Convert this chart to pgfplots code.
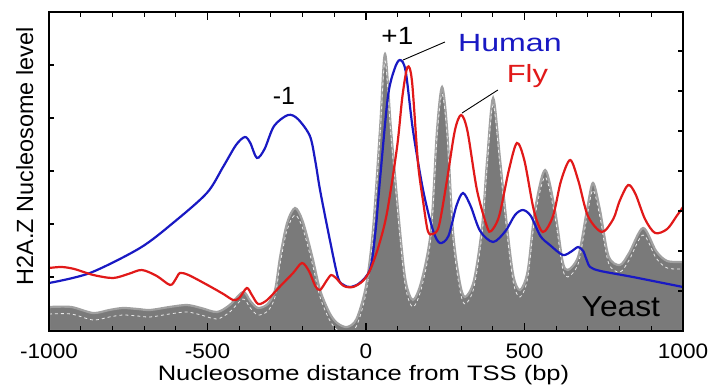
\documentclass[border=0pt]{standalone}
\usepackage{pgfplots}
\pgfplotsset{compat=1.18}
\usepackage{pgfplotstable}
\usepackage{fontspec}
\setmainfont{Liberation Sans}
\usepackage{graphicx}
\definecolor{hblue}{RGB}{25,25,195}
\definecolor{fred}{RGB}{225,25,25}
\definecolor{ygray}{RGB}{122,122,122}
\definecolor{yedge}{RGB}{160,160,160}

\pgfplotstableread{
x y
-1000 24
-930 24
-861 18
-810 21
-767 23
-720 22
-681 21
-620 24
-565 26
-520 23
-470 19
-430 26
-388 39
-365 30
-341 23
-310 27
-287 41
-271 74
-249 108
-224 123
-200 110
-170 75
-145 41
-115 18
-91 8
-60 4
-30 12
0 45
22 101
44 201
60 277
79 201
107 101
125 50
148 31
175 50
205 101
224 201
240 244
256 201
274 101
295 50
312 34
340 50
366 104
382 171
401 233
423 171
445 104
465 55
486 41
510 60
533 121
565 161
596 121
620 70
637 61
670 75
697 121
716 148
738 121
765 75
801 66
830 78
874 103
915 80
950 70
1000 69
}\yeast

\pgfplotstableread{
x y
-1000 48
-871 58
-713 83
-609 108
-502 138
-451 164
-410 186
-382 194
-365 188
-344 173
-320 182
-290 205
-246 216
-215 212
-177 195
-160 170
-145 141
-114 91
-88 53
-70 46
-50 44
-20 48
13 62
30 100
44 151
69 234
90 262
107 271
125 260
148 201
180 141
211 101
233 88
260 95
285 125
306 138
330 125
360 100
401 89
440 100
470 116
495 121
520 115
550 95
580 86
621 76
650 80
669 84
685 80
695 72
707 64
740 60
842 54
1000 44
}\human

\pgfplotstableread{
x y
-1000 63
-960 64
-920 62
-860 56
-798 53
-750 57
-707 61
-660 55
-618 46
-600 52
-587 58
-560 56
-500 46
-450 37
-419 31
-400 33
-376 43
-360 36
-340 27
-312 31
-270 45
-230 58
-202 68
-180 60
-160 45
-145 41
-125 50
-110 56
-95 53
-70 45
-41 44
-10 50
13 61
40 85
66 118
98 184
115 235
131 264
145 250
164 168
180 130
195 100
211 97
230 105
255 150
280 200
300 216
320 200
350 141
382 104
395 100
420 115
450 160
476 188
500 170
530 120
558 99
590 115
615 150
644 171
670 150
700 115
744 99
780 112
800 130
827 146
850 137
880 112
912 98
950 102
980 115
1000 124
}\fly

\begin{document}
\begin{tikzpicture}[x=1bp,y=1bp]
\useasboundingbox (0,0) rectangle (708,388);
\begin{axis}[at={(49bp,57bp)}, anchor=south west, scale only axis,
  width=634bp, height=319bp,
  xmin=-1000, xmax=1000, ymin=0, ymax=319,
  xtick={-1000,-500,0,500,1000},
  xticklabels={\scalebox{1.08}[1]{-1000},\scalebox{1.08}[1]{-500},\scalebox{1.08}[1]{0},\scalebox{1.08}[1]{500},\scalebox{1.08}[1]{1000}},
  minor xtick={-900,-800,-700,-600,-400,-300,-200,-100,100,200,300,400,600,700,800,900},
  xtick pos=both, ytick=\empty,
  tick align=inside,
  major tick length=8bp, minor tick length=5bp,
  every tick/.style={black, line width=1.1bp},
  axis line style={line width=1.4bp},
  axis on top,
  xticklabel style={font=\fontsize{21}{21}\selectfont, anchor=base, yshift=-27bp, inner sep=0pt},
]
\addplot[smooth, fill=ygray, draw=yedge, line width=2.2bp] table[x=x,y=y] {\yeast} \closedcycle;
\addplot[smooth, draw=white!85!gray, dashed, line width=0.8bp] table[x=x,y expr=\thisrow{y}-7] {\yeast};
\addplot[smooth, draw=hblue, line width=2.2bp] table[x=x,y=y] {\human};
\addplot[smooth, draw=fred, line width=2.2bp] table[x=x,y=y] {\fly};
\draw[black, line width=0.9bp] (axis cs:117,271) -- (axis cs:249,289);
\draw[black, line width=0.9bp] (axis cs:303,218) -- (axis cs:416,241);
\node[anchor=base, font=\fontsize{25}{25}\selectfont, text=hblue, inner sep=0pt] at (axis cs:454,279) {\scalebox{1.29}[1]{Human}};
\node[anchor=base, font=\fontsize{25}{25}\selectfont, text=fred, inner sep=0pt] at (axis cs:509,248) {\scalebox{1.24}[1]{Fly}};
\node[anchor=base, font=\fontsize{25}{25}\selectfont, inner sep=0pt] at (axis cs:99,286) {\scalebox{1.12}[1]{+1}};
\node[anchor=base, font=\fontsize{25}{25}\selectfont, inner sep=0pt] at (axis cs:-259,226) {-1};
\node[anchor=base, font=\fontsize{29}{29}\selectfont, inner sep=0pt] at (axis cs:804,15) {\scalebox{1.1}[1]{Yeast}};
\end{axis}
\begin{axis}[at={(49bp,57bp)}, anchor=south west, scale only axis,
  width=634bp, height=319bp,
  xmin=-1000, xmax=1000, ymin=0, ymax=319,
  xtick=\empty, ytick={54,107,160,213,266}, yticklabels={},
  ytick pos=left, tick align=inside, major tick length=5bp,
  every tick/.style={black, line width=1.1bp},
  axis line style={line width=1.4bp}]
\end{axis}
\begin{axis}[at={(49bp,57bp)}, anchor=south west, scale only axis,
  width=634bp, height=319bp,
  xmin=-1000, xmax=1000, ymin=0, ymax=319,
  xtick=\empty, ytick={40,80,120,160,200,240,280}, yticklabels={},
  ytick pos=right, tick align=inside, major tick length=5bp,
  every tick/.style={black, line width=1.1bp},
  axis line style={line width=1.4bp}]
\end{axis}
\node[rotate=90, anchor=base, font=\fontsize{23.5}{23.5}\selectfont, inner sep=0pt] at (33,231.5) {H2A.Z Nucleosome level};
\node[anchor=base, font=\fontsize{21}{21}\selectfont, inner sep=0pt] at (363.5,8) {\scalebox{1.22}[1]{Nucleosome distance from TSS (bp)}};
\end{tikzpicture}
\end{document}
